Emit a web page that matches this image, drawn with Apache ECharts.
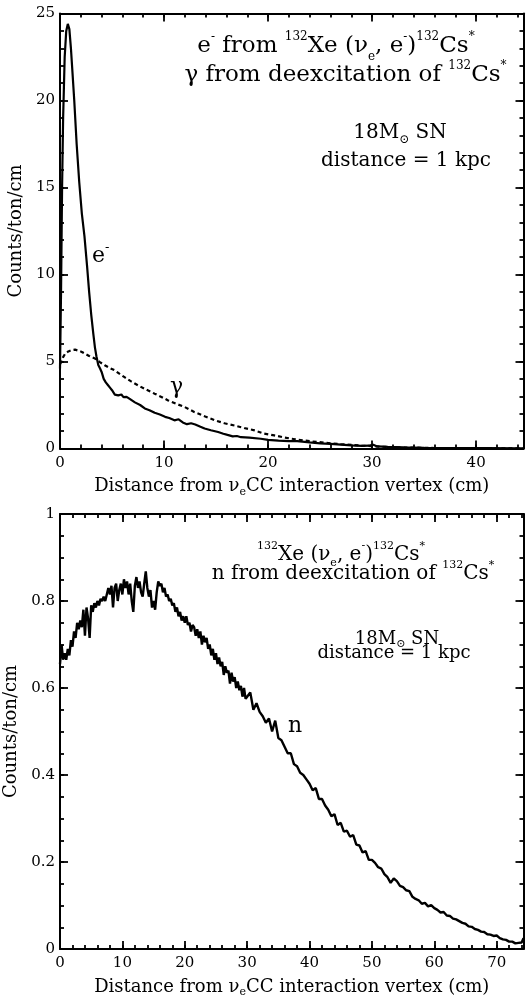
<!DOCTYPE html>
<html><head><meta charset="utf-8">
<script src="https://cdn.jsdelivr.net/npm/echarts@6/dist/echarts.min.js"></script>
<style>html,body{margin:0;padding:0;background:#fff}#c{width:528px;height:998px}</style>
</head><body><div id="c"></div><script>
const FONT = 'DejaVu Serif';

// ---- top panel data (distance cm, counts/ton/cm) ----
const electronCurve = [[0,4.6],[0.1,9],[0.2,15],[0.3,19],[0.45,22.5],[0.6,24],[0.75,24.4],[0.9,24.1],[1.05,23],[1.2,21.6],[1.37,20.0],[1.6,17.5],[1.85,15.3],[2.1,13.5],[2.35,12.2],[2.6,10.5],[2.8,9.0],[3.0,7.7],[3.2,6.6],[3.36,5.8],[3.5,5.3],[3.68,4.8],[3.85,4.6],[4.0,4.4],[4.2,4.0],[4.4,3.8],[4.6,3.65],[4.8,3.5],[5.0,3.35],[5.27,3.1],[5.45,3.2],[5.6,3.05],[5.9,3.1],[6.1,2.95],[6.4,2.97],[6.7,2.85],[7.2,2.65],[7.7,2.5],[8.15,2.3],[8.6,2.2],[9.1,2.05],[9.6,1.95],[10.1,1.82],[10.5,1.75],[11.0,1.62],[11.4,1.68],[11.8,1.5],[12.2,1.4],[12.6,1.45],[13.0,1.38],[13.5,1.25],[13.9,1.15],[14.5,1.05],[15.2,0.95],[15.7,0.85],[16.1,0.78],[16.6,0.7],[17.0,0.72],[17.4,0.65],[18.2,0.62],[19.3,0.56],[20.0,0.5],[21.0,0.45],[22.0,0.42],[22.8,0.42],[24.0,0.35],[25.0,0.3],[26.0,0.27],[27.0,0.22],[28.0,0.18],[29.0,0.15],[29.7,0.16],[30.1,0.22],[30.5,0.12],[31.5,0.09],[33,0.06],[35,0.04],[38,0.03],[41,0.02],[44.5,0.01]];
const gammaCurve = [[0,4.85],[0.15,5.0],[0.3,5.25],[0.5,5.45],[0.8,5.58],[1.1,5.65],[1.45,5.68],[1.8,5.62],[2.1,5.55],[2.4,5.45],[2.8,5.32],[3.36,5.17],[3.8,4.98],[4.3,4.78],[4.8,4.62],[5.27,4.49],[5.7,4.3],[6.2,4.1],[6.8,3.87],[7.5,3.63],[8.3,3.38],[9.1,3.15],[9.8,2.95],[10.4,2.76],[11.2,2.56],[12.0,2.38],[12.9,2.1],[13.9,1.85],[14.9,1.62],[15.8,1.45],[16.8,1.32],[17.7,1.18],[18.7,1.04],[19.6,0.86],[20.6,0.75],[21.6,0.63],[22.6,0.53],[24.0,0.42],[25.5,0.33],[27.0,0.25],[29.0,0.17],[31.0,0.1],[33.0,0.06],[36.0,0.03],[40.0,0.015],[44.5,0.01]];

// ---- bottom panel data ----
const neutronCurve = [[0,0.655],[0.25,0.70],[0.5,0.665],[0.75,0.68],[1,0.665],[1.25,0.69],[1.5,0.675],[1.75,0.71],[2,0.695],[2.25,0.73],[2.5,0.715],[2.75,0.75],[3,0.735],[3.25,0.755],[3.5,0.74],[3.75,0.78],[4,0.72],[4.25,0.785],[4.5,0.76],[4.75,0.715],[5,0.79],[5.25,0.775],[5.5,0.795],[5.75,0.785],[6,0.80],[6.25,0.79],[6.5,0.805],[6.75,0.80],[7,0.81],[7.25,0.80],[7.5,0.815],[7.75,0.83],[8,0.815],[8.25,0.835],[8.5,0.785],[8.75,0.83],[9,0.84],[9.25,0.80],[9.5,0.825],[9.75,0.84],[10,0.815],[10.25,0.85],[10.5,0.83],[10.75,0.845],[11,0.815],[11.25,0.84],[11.5,0.80],[11.75,0.775],[12,0.835],[12.25,0.855],[12.5,0.83],[12.75,0.845],[13,0.82],[13.25,0.81],[13.5,0.84],[13.75,0.868],[14,0.83],[14.25,0.81],[14.5,0.825],[14.75,0.785],[15,0.80],[15.25,0.78],[15.5,0.82],[15.75,0.845],[16,0.835],[16.25,0.84],[16.5,0.82],[16.75,0.83],[17,0.81],[17.25,0.815],[17.5,0.80],[17.75,0.805],[18,0.79],[18.25,0.795],[18.5,0.775],[18.75,0.785],[19,0.765],[19.25,0.775],[19.5,0.755],[19.75,0.765],[20,0.75],[20.25,0.765],[20.5,0.745],[20.75,0.75],[21,0.73],[21.25,0.745],[21.5,0.74],[21.75,0.72],[22,0.735],[22.25,0.715],[22.5,0.73],[22.75,0.70],[23,0.72],[23.25,0.705],[23.5,0.715],[23.75,0.69],[24,0.70],[24.25,0.675],[24.5,0.69],[24.75,0.665],[25,0.68],[25.25,0.655],[25.5,0.67],[25.75,0.65],[26,0.66],[26.25,0.63],[26.5,0.65],[26.75,0.635],[27,0.64],[27.25,0.61],[27.5,0.635],[27.75,0.615],[28,0.625],[28.25,0.60],[28.5,0.615],[28.75,0.595],[29,0.605],[29.25,0.58],[29.5,0.60],[29.75,0.575],[30,0.58],[30.5,0.59],[31,0.55],[31.5,0.565],[32,0.545],[32.5,0.535],[33,0.52],[33.5,0.53],[34,0.50],[34.5,0.525],[35,0.485],[35.5,0.48],[36,0.465],[36.5,0.45],[37,0.45],[37.5,0.425],[38,0.42],[38.5,0.405],[39,0.40],[39.5,0.39],[40,0.38],[40.5,0.365],[41,0.37],[41.5,0.345],[42,0.345],[42.5,0.33],[43,0.32],[43.5,0.305],[44,0.31],[44.5,0.285],[45,0.29],[45.5,0.27],[46,0.272],[46.5,0.258],[47,0.262],[47.5,0.24],[48,0.238],[48.5,0.222],[49,0.225],[49.5,0.205],[50,0.205],[50.5,0.198],[51,0.188],[51.5,0.185],[52,0.172],[52.5,0.165],[53,0.152],[53.5,0.162],[54,0.156],[54.5,0.145],[55,0.142],[55.5,0.135],[56,0.133],[56.5,0.12],[57,0.115],[57.5,0.112],[58,0.104],[58.5,0.106],[59,0.098],[59.5,0.101],[60,0.094],[60.5,0.09],[61,0.084],[61.5,0.085],[62,0.077],[62.5,0.076],[63,0.07],[63.5,0.068],[64,0.064],[64.5,0.06],[65,0.058],[65.5,0.052],[66,0.051],[66.5,0.046],[67,0.044],[67.5,0.04],[68,0.039],[68.5,0.034],[69,0.033],[69.5,0.03],[70,0.031],[70.5,0.025],[71,0.022],[71.5,0.021],[72,0.017],[72.5,0.017],[73,0.013],[73.5,0.014],[74,0.015],[74.3,0.025]];

// ---- axis ranges / ticks ----
const topX = {max: 44.55, major: 10, minor: 2};
const topY = {max: 25, major: 5, minor: 1};
const botX = {max: 74.3, major: 10, minor: 2};
const botY = {max: 1, major: 0.2, minor: 0.05};
const xTitle = 'Distance from ν{s|e}CC interaction vertex (cm)';
const yTitle = 'Counts/ton/cm';

const BLACK = '#000';
const tickStyle = {color: BLACK, width: 1.8};
function xAxes(g, r) {
  const base = {type:'value', gridIndex:g, min:0, max:r.max, splitLine:{show:false},
    axisLine:{show:false, onZero:false}, axisLabel:{show:false}};
  return [
    Object.assign({}, base, {position:'bottom', interval:r.major,
      axisLine:{show:true, onZero:false, lineStyle:{color:BLACK, width:2}},
      axisTick:{show:true, inside:true, length:8, lineStyle:tickStyle},
      axisLabel:{show:true, showMaxLabel:false, margin:7, color:BLACK, fontFamily:FONT, fontSize:15},
      name:xTitle, nameLocation:'middle', nameGap:27,
      nameTextStyle:{color:BLACK, fontFamily:FONT, fontSize:18, lineHeight:22,
        rich:{s:{color:BLACK, fontFamily:FONT, fontSize:11, lineHeight:16, verticalAlign:'bottom'}}}}),
    Object.assign({}, base, {position:'bottom', interval:r.minor,
      axisTick:{show:true, inside:true, length:4, lineStyle:tickStyle}}),
    Object.assign({}, base, {position:'top', interval:r.major,
      axisLine:{show:true, onZero:false, lineStyle:{color:BLACK, width:2}},
      axisTick:{show:true, inside:true, length:8, lineStyle:tickStyle}}),
    Object.assign({}, base, {position:'top', interval:r.minor,
      axisTick:{show:true, inside:true, length:4, lineStyle:tickStyle}})
  ];
}
function yAxes(g, r) {
  const base = {type:'value', gridIndex:g, min:0, max:r.max, splitLine:{show:false},
    axisLine:{show:false, onZero:false}, axisLabel:{show:false}};
  return [
    Object.assign({}, base, {position:'left', interval:r.major,
      axisLine:{show:true, onZero:false, lineStyle:{color:BLACK, width:2}},
      axisTick:{show:true, inside:true, length:8, lineStyle:tickStyle},
      axisLabel:{show:true, margin:5, color:BLACK, fontFamily:FONT, fontSize:15},
      name:yTitle, nameLocation:'middle', nameGap:34,
      nameTextStyle:{color:BLACK, fontFamily:FONT, fontSize:18}}),
    Object.assign({}, base, {position:'left', interval:r.minor,
      axisTick:{show:true, inside:true, length:4, lineStyle:tickStyle}}),
    Object.assign({}, base, {position:'right', interval:r.major,
      axisLine:{show:true, onZero:false, lineStyle:{color:BLACK, width:2}},
      axisTick:{show:true, inside:true, length:8, lineStyle:tickStyle}}),
    Object.assign({}, base, {position:'right', interval:r.minor,
      axisTick:{show:true, inside:true, length:4, lineStyle:tickStyle}})
  ];
}

function richSet(main, sup, mainLH, subLH) {
  return {
    m:{fontFamily:FONT, fontSize:main, lineHeight:mainLH, fill:BLACK},
    p:{fontFamily:FONT, fontSize:sup, lineHeight:sup, verticalAlign:'top', fill:BLACK},
    b:{fontFamily:FONT, fontSize:sup, lineHeight:subLH, verticalAlign:'bottom', fill:BLACK}
  };
}
function label(x, y, text, rich, align) {
  return {type:'text', x:x, y:y, z:100, style:{text:text, rich:rich, fill:BLACK,
    font:'20px ' + FONT, align:align || 'center', textAlign:align || 'center',
    verticalAlign:'middle', textVerticalAlign:'middle'}};
}
const rTitleTop = richSet(23, 12, 32, 20);
const rSNTop = richSet(20, 12, 26, 20);
const rTitleBot = richSet(20, 11, 28, 19);
const rSNBot = richSet(18, 11, 22, 18);
const rCurve = richSet(22, 13, 30, 20);

const chart = echarts.init(document.getElementById('c'), null, {renderer:'canvas'});
chart.setOption({
  animation:false,
  backgroundColor:'#fff',
  grid:[
    {left:60, right:4.5, top:13.5, height:435, outerBoundsMode:'none', containLabel:false},
    {left:60, right:4.5, top:514, height:435, outerBoundsMode:'none', containLabel:false}
  ],
  xAxis: xAxes(0, topX).concat(xAxes(1, botX)),
  yAxis: yAxes(0, topY).concat(yAxes(1, botY)),
  series:[
    {type:'line', name:'e-', xAxisIndex:0, yAxisIndex:0, data:electronCurve, showSymbol:false,
      lineStyle:{color:BLACK, width:2.2}, z:5},
    {type:'line', name:'gamma', xAxisIndex:0, yAxisIndex:0, data:gammaCurve, showSymbol:false,
      lineStyle:{color:BLACK, width:2.2, type:[4,3]}, z:4},
    {type:'line', name:'n', xAxisIndex:4, yAxisIndex:4, data:neutronCurve, showSymbol:false,
      lineStyle:{color:BLACK, width:2.4}, z:5}
  ],
  graphic:{elements:[
    label(336, 46.5, '{m|e}{p|-}{m| from }{p|132}{m|Xe (ν}{b|e}{m|, e}{p|-}{m|)}{p|132}{m|Cs}{p|*}', rTitleTop),
    label(345.5, 75.5, '{m|γ from deexcitation of }{p|132}{m|Cs}{p|*}', rTitleTop),
    label(400, 133, '{m|18M}{b|⊙}{m| SN}', rSNTop),
    label(406, 161, '{m|distance = 1 kpc}', rSNTop),
    label(92, 256, '{m|e}{p|-}', rCurve, 'left'),
    label(170, 387, '{m|γ}', rCurve, 'left'),
    label(341, 555, '{p|132}{m|Xe (ν}{b|e}{m|, e}{p|-}{m|)}{p|132}{m|Cs}{p|*}', rTitleBot),
    label(353, 574, '{m|n from deexcitation of }{p|132}{m|Cs}{p|*}', rTitleBot),
    label(397, 639, '{m|18M}{b|⊙}{m| SN}', rSNBot),
    label(394, 653, '{m|distance = 1 kpc}', rSNBot),
    label(288, 726.5, '{m|n}', rCurve, 'left')
  ]}
});
</script></body></html>
